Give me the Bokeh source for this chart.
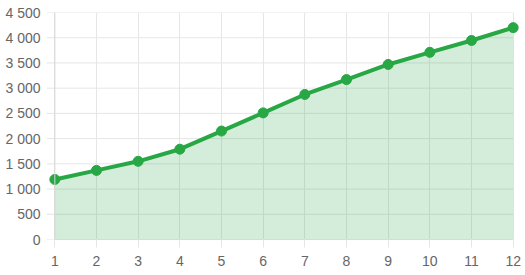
from bokeh.plotting import figure
from bokeh.models import ColumnDataSource, Range1d, FixedTicker, CustomJSTickFormatter, Span
from bokeh.embed import file_html
from bokeh.resources import INLINE

months = [1, 2, 3, 4, 5, 6, 7, 8, 9, 10, 11, 12]
values = [1190, 1370, 1550, 1790, 2150, 2510, 2875, 3170, 3470, 3710, 3945, 4200]
y_ticks = [0, 500, 1000, 1500, 2000, 2500, 3000, 3500, 4000, 4500]

src = ColumnDataSource(dict(x=months, y=values, base=[0] * len(months)))

pad = 0.2
x_lo = months[0] - pad
grid_src = ColumnDataSource(dict(x0=[x_lo] * len(y_ticks),
                                 x1=[months[-1]] * len(y_ticks), y=y_ticks))

p = figure(width=525, height=275, output_backend="svg", toolbar_location=None,
           x_range=Range1d(x_lo, months[-1] + pad), y_range=Range1d(0, 4500),
           min_border_left=46, min_border_right=4, min_border_top=12, min_border_bottom=36)
p.outline_line_color = None

grid_col = "#e6e6e6"
p.ygrid.visible = False
p.segment(x0="x0", x1="x1", y0="y", y1="y", source=grid_src, line_color=grid_col,
          line_width=1, level="underlay")
p.xgrid.grid_line_color = grid_col

p.varea(x="x", y1="base", y2="y", source=src, fill_color="#28a745", fill_alpha=0.2)
p.add_layout(Span(location=months[0], dimension="height", line_color="#d6d6d6", line_width=1))
p.line(x="x", y="y", source=src, line_color="#28a745", line_width=4)
p.scatter(x="x", y="y", source=src, size=10, fill_color="#28a745", line_color="#28a745")

p.xaxis.ticker = FixedTicker(ticks=months)
p.yaxis.ticker = FixedTicker(ticks=y_ticks)
p.yaxis.formatter = CustomJSTickFormatter(code="""
    return tick.toString().replace(/\\B(?=(\\d{3})+(?!\\d))/g, ' ');
""")
p.xaxis.bounds = (months[0], months[-1])

for ax in (p.xaxis, p.yaxis):
    ax.axis_line_color = "#d9d9d9"
    ax.major_tick_line_color = grid_col
    ax.major_tick_in = 0
    ax.major_tick_out = 8
    ax.minor_tick_line_color = None
    ax.major_label_text_font = "Liberation Sans"
    ax.major_label_text_font_size = "14px"
    ax.major_label_text_color = "#666666"
p.yaxis.axis_line_color = None
p.yaxis.major_tick_line_color = None
p.yaxis.major_tick_out = 0
p.yaxis.major_label_standoff = 6
p.xaxis.major_label_standoff = 8

open("out.html", "w").write(file_html(p, INLINE))
